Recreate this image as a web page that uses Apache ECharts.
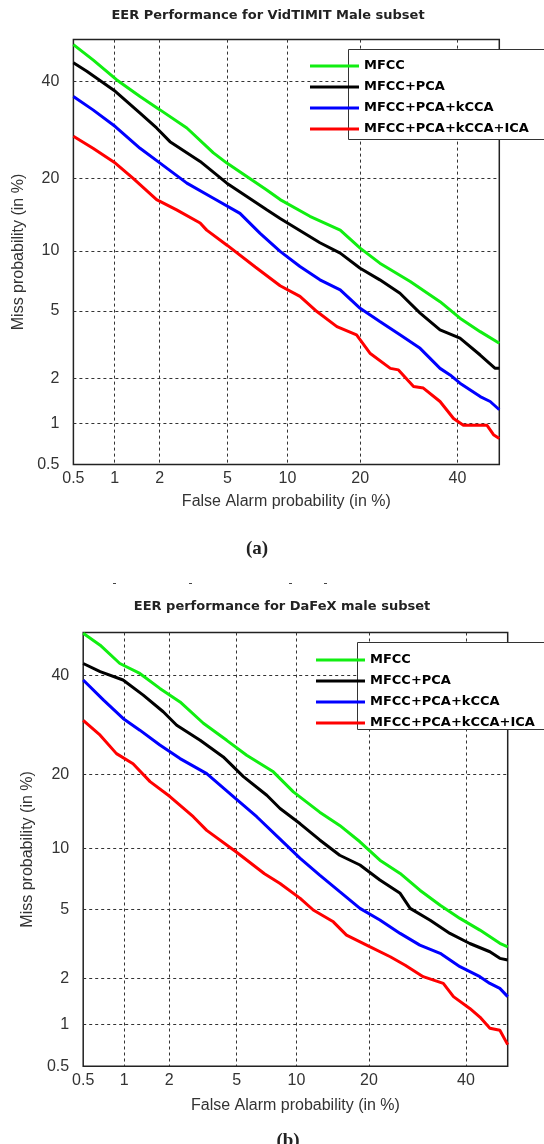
<!DOCTYPE html>
<html>
<head>
<meta charset="utf-8">
<script src="https://cdn.jsdelivr.net/npm/echarts@6/dist/echarts.min.js"></script>
<style>
html, body { margin: 0; padding: 0; background: #fff; }
#det { width: 544px; height: 1144px; }
</style>
</head>
<body>
<div id="det"></div>
<script>
// DET curves, VidTIMIT (a) and DaFeX (b), male subsets

var seriesNames = ['MFCC', 'MFCC+PCA', 'MFCC+PCA+kCCA', 'MFCC+PCA+kCCA+ICA'];
var colors = ['#11ee11', '#000000', '#0000ff', '#ff0000'];
var tickPct = [0.5, 1, 2, 5, 10, 20, 40];
var gridPct = [1, 2, 5, 10, 20, 40];

// (a) VidTIMIT male  - false alarm % / miss %
var vidMfccFA = [0.5, 0.7, 1.03, 1.49, 2.01, 2.94, 4.19, 4.97, 7.98, 9.25, 12.6, 16.8, 20.0, 23.5, 29.5, 36.0, 40.6, 45.4, 50];
var vidMfccMiss = [48.8, 45.1, 40.4, 36.5, 33.5, 29.6, 24.6, 22.7, 18.1, 16.6, 14.2, 12.4, 10.3, 8.76, 7.12, 5.6, 4.56, 3.83, 3.28];
var vidPcaFA = [0.5, 0.63, 1.01, 1.49, 1.91, 2.32, 3.52, 4.97, 7.98, 9.25, 13.9, 16.8, 20.0, 23.5, 27.4, 31.6, 36.0, 40.6, 45.4, 49.0, 50];
var vidPcaMiss = [44.4, 42.4, 37.7, 32.8, 29.6, 26.8, 23.0, 19.2, 15.1, 13.9, 10.9, 9.77, 8.28, 7.26, 6.2, 4.86, 3.92, 3.51, 2.79, 2.31, 2.31];
var vidKccaFA = [0.5, 0.7, 1.01, 1.49, 2.01, 2.94, 4.19, 5.84, 7.4, 9.25, 11.4, 13.9, 16.8, 20.0, 23.5, 27.4, 31.6, 36.0, 38.3, 40.6, 45.4, 47.8, 50];
var vidKccaMiss = [36.5, 33.5, 29.9, 25.5, 22.7, 19.2, 16.8, 14.6, 12.0, 9.95, 8.45, 7.26, 6.45, 5.16, 4.37, 3.67, 3.06, 2.31, 2.10, 1.86, 1.52, 1.41, 1.24];
var vidIcaFA = [0.5, 0.7, 1.01, 1.34, 1.91, 2.55, 3.52, 3.84, 5.0, 7.0, 9.25, 11.4, 13.5, 16.3, 19.4, 21.7, 25.5, 27.1, 30.2, 32.3, 36.0, 39.1, 41.4, 47.0, 48.6, 50];
var vidIcaMiss = [27.9, 25.5, 22.7, 20.0, 16.6, 15.1, 13.3, 12.4, 10.6, 8.4, 6.78, 5.97, 4.96, 4.09, 3.67, 2.86, 2.31, 2.26, 1.77, 1.73, 1.41, 1.08, 0.97, 0.97, 0.83, 0.78];

// (b) DaFeX male
var dafMfccFA = [0.5, 0.67, 0.93, 1.28, 1.74, 2.34, 3.24, 4.41, 5.66, 7.75, 9.67, 12.7, 15.4, 18.5, 21.9, 25.7, 29.7, 34.1, 38.6, 43.3, 48.1, 50];
var dafMfccMiss = [49.8, 47.0, 42.7, 40.4, 37.0, 34.0, 29.5, 26.1, 23.3, 20.4, 17.2, 14.3, 12.6, 10.7, 8.82, 7.63, 6.30, 5.27, 4.48, 3.86, 3.25, 3.10];
var dafPcaFA = [0.5, 0.67, 0.98, 1.35, 1.83, 2.23, 3.10, 4.22, 5.44, 7.19, 8.36, 10.4, 12.7, 15.4, 18.5, 21.9, 25.7, 27.7, 31.9, 36.3, 40.9, 45.7, 48.1, 50];
var dafPcaMiss = [42.7, 40.8, 38.9, 35.5, 31.9, 29.1, 26.1, 23.0, 19.6, 16.7, 14.8, 12.8, 10.9, 9.3, 8.37, 7.08, 6.07, 5.07, 4.38, 3.70, 3.24, 2.90, 2.65, 2.59];
var dafKccaFA = [0.5, 0.71, 0.98, 1.28, 1.74, 2.34, 3.39, 4.80, 6.39, 8.36, 10.4, 12.7, 15.4, 18.5, 21.9, 25.7, 29.7, 34.1, 38.6, 43.3, 45.7, 48.1, 50];
var dafKccaMiss = [38.9, 34.4, 30.5, 28.1, 25.2, 22.7, 20.1, 16.5, 13.7, 11.0, 8.99, 7.49, 6.19, 5.07, 4.39, 3.70, 3.17, 2.84, 2.36, 2.05, 1.86, 1.73, 1.53];
var dafIcaFA = [0.5, 0.67, 0.88, 1.15, 1.50, 2.02, 2.82, 3.39, 5.0, 7.0, 8.36, 10.4, 11.9, 14.5, 16.4, 20.2, 23.8, 26.7, 30.4, 34.8, 37.1, 40.9, 43.3, 45.7, 48.1, 50];
var dafIcaMiss = [30.1, 27.1, 23.6, 21.8, 18.8, 16.5, 13.7, 12.0, 9.6, 7.6, 6.81, 5.72, 4.97, 4.29, 3.62, 3.10, 2.71, 2.41, 2.05, 1.86, 1.53, 1.28, 1.12, 0.94, 0.91, 0.72];

// normal deviate scale used by DET plots (Acklam inverse normal cdf)
function probit(p) {
  var a = [-3.969683028665376e+01, 2.209460984245205e+02, -2.759285104469687e+02, 1.383577518672690e+02, -3.066479806614716e+01, 2.506628277459239e+00];
  var b = [-5.447609879822406e+01, 1.615858368580409e+02, -1.556989798598866e+02, 6.680131188771972e+01, -1.328068155288572e+01];
  var c = [-7.784894002430293e-03, -3.223964580411365e-01, -2.400758277161838e+00, -2.549671010448003e+00, 4.374664141464968e+00, 2.938163982698783e+00];
  var d = [7.784695709041462e-03, 3.224671290700398e-01, 2.445134137142996e+00, 3.754408661907416e+00];
  var q, r;
  if (p < 0.02425) {
    q = Math.sqrt(-2 * Math.log(p));
    return (((((c[0]*q+c[1])*q+c[2])*q+c[3])*q+c[4])*q+c[5]) / ((((d[0]*q+d[1])*q+d[2])*q+d[3])*q+1);
  }
  if (p <= 1 - 0.02425) {
    q = p - 0.5; r = q * q;
    return (((((a[0]*r+a[1])*r+a[2])*r+a[3])*r+a[4])*r+a[5])*q / (((((b[0]*r+b[1])*r+b[2])*r+b[3])*r+b[4])*r+1);
  }
  q = Math.sqrt(-2 * Math.log(1 - p));
  return -(((((c[0]*q+c[1])*q+c[2])*q+c[3])*q+c[4])*q+c[5]) / ((((d[0]*q+d[1])*q+d[2])*q+d[3])*q+1);
}
function pz(pct) { return probit(pct / 100); }

function pctLabel(v) {
  for (var i = 0; i < tickPct.length; i++) {
    if (Math.abs(pz(tickPct[i]) - v) < 1e-6) return String(tickPct[i]);
  }
  return '';
}

var labelFont = { fontFamily: '"Liberation Sans", Arial, sans-serif', fontSize: 16, color: '#333' };

function makeAxis(gi, name, nameGap, margin, isY) {
  return {
    type: 'value',
    gridIndex: gi,
    min: pz(0.5),
    max: 0,
    name: name,
    nameLocation: 'middle',
    nameGap: nameGap,
    nameRotate: isY ? 90 : 0,
    nameTextStyle: labelFont,
    axisLine: { show: false },
    axisTick: { show: false, customValues: gridPct.map(pz) },
    axisLabel: Object.assign({ margin: margin, customValues: tickPct.map(pz), formatter: pctLabel }, labelFont),
    splitLine: { show: true, lineStyle: { color: '#333', width: 1, type: [3, 3] } }
  };
}

var vidSets = [[vidMfccFA, vidMfccMiss], [vidPcaFA, vidPcaMiss], [vidKccaFA, vidKccaMiss], [vidIcaFA, vidIcaMiss]];
var dafSets = [[dafMfccFA, dafMfccMiss], [dafPcaFA, dafPcaMiss], [dafKccaFA, dafKccaMiss], [dafIcaFA, dafIcaMiss]];

var series = [];
[vidSets, dafSets].forEach(function (sets, gi) {
  sets.forEach(function (s, i) {
    series.push({
      type: 'line',
      name: seriesNames[i],
      xAxisIndex: gi,
      yAxisIndex: gi,
      symbol: 'none',
      lineStyle: { color: colors[i], width: 3 },
      itemStyle: { color: colors[i] },
      data: s[0].map(function (fa, k) { return [pz(fa), pz(s[1][k])]; })
    });
  });
});

function makeLegend(left, top) {
  return {
    orient: 'vertical',
    left: left,
    top: top,
    z: 10,
    icon: 'rect',
    itemWidth: 49,
    itemHeight: 3,
    itemGap: 7,
    data: seriesNames,
    textStyle: { fontFamily: '"DejaVu Sans", Verdana, sans-serif', fontWeight: 'bold', fontSize: 13, color: '#000', lineHeight: 14 }
  };
}

var titleFont = 'bold 13px "DejaVu Sans", Verdana, sans-serif';
var capFont = 'bold 19px "Liberation Serif", "Times New Roman", serif';

var option = {
  animation: false,
  backgroundColor: '#fff',
  grid: [
    { left: 73.4, top: 39.6, width: 425.9, height: 424.8, show: true, borderColor: '#222', borderWidth: 1.5 },
    { left: 83.2, top: 632.5, width: 424.5, height: 433.8, show: true, borderColor: '#222', borderWidth: 1.5 }
  ],
  xAxis: [
    makeAxis(0, 'False Alarm probability (in %)', 29, 6, false),
    makeAxis(1, 'False Alarm probability (in %)', 31, 6, false)
  ],
  yAxis: [
    makeAxis(0, 'Miss probability (in %)', 44, 14, true),
    makeAxis(1, 'Miss probability (in %)', 48, 14, true)
  ],
  legend: [makeLegend(305, 54), makeLegend(311, 648)],
  graphic: [
    { type: 'rect', z: 3, shape: { x: 348.5, y: 49.5, width: 260, height: 90 }, style: { fill: '#fff', stroke: '#333', lineWidth: 1 } },
    { type: 'rect', z: 3, shape: { x: 357.5, y: 642.5, width: 260, height: 87 }, style: { fill: '#fff', stroke: '#333', lineWidth: 1 } },
    { type: 'text', x: 268, y: 16, style: { text: 'EER Performance for VidTIMIT Male subset', font: titleFont, fill: '#222', align: 'center', verticalAlign: 'middle' } },
    { type: 'text', x: 282, y: 607, style: { text: 'EER performance for DaFeX male subset', font: titleFont, fill: '#222', align: 'center', verticalAlign: 'middle' } },
    { type: 'text', x: 257, y: 549, style: { text: '(a)', font: capFont, fill: '#222', align: 'center', verticalAlign: 'middle' } },
    { type: 'text', x: 288, y: 1141, style: { text: '(b)', font: capFont, fill: '#222', align: 'center', verticalAlign: 'middle' } },
    { type: 'rect', shape: { x: 113, y: 583, width: 3, height: 1 }, style: { fill: '#444' } },
    { type: 'rect', shape: { x: 189, y: 583, width: 3, height: 1 }, style: { fill: '#444' } },
    { type: 'rect', shape: { x: 289, y: 583, width: 3, height: 1 }, style: { fill: '#444' } },
    { type: 'rect', shape: { x: 324, y: 583, width: 3, height: 1 }, style: { fill: '#444' } }
  ],
  series: series
};

var chart = echarts.init(document.getElementById('det'));
chart.setOption(option);
</script>
</body>
</html>
